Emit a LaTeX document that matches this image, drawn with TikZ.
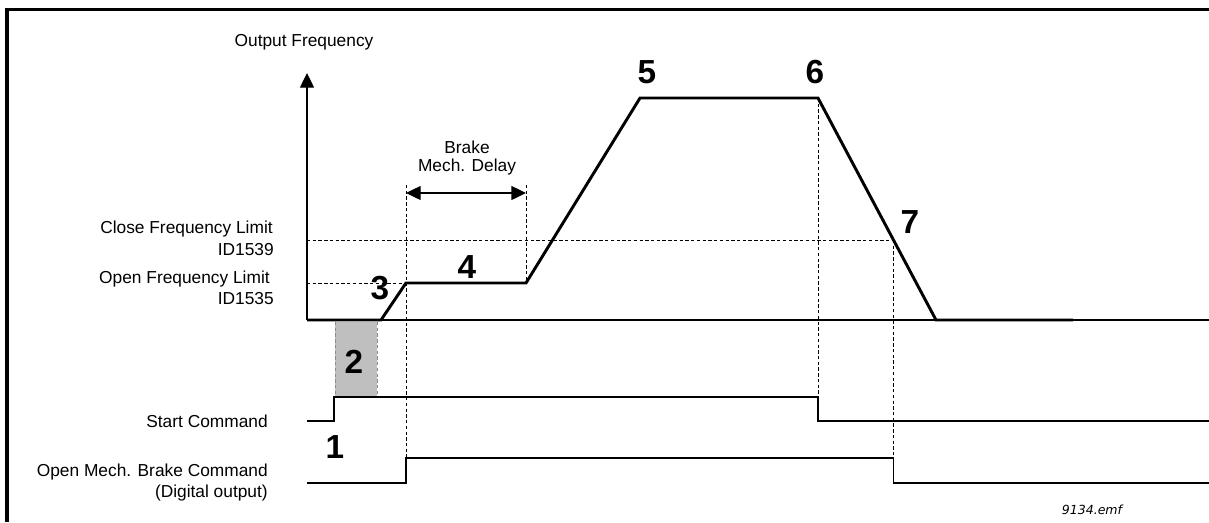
\documentclass[tikz,border=0pt]{standalone}
\usepackage{fontspec}
\setmainfont{Liberation Sans}
\newfontfamily\emffont{DejaVu Sans}
\usetikzlibrary{arrows.meta}

\begin{document}
\begin{tikzpicture}[
  x=0.75pt, y=-0.75pt,
  lbl/.style={font=\fontsize{13}{15}\selectfont, anchor=east, inner sep=0pt},
  num/.style={font=\fontsize{25}{25}\selectfont\bfseries, inner sep=0pt},
  freq/.style={line width=2.2pt, line join=miter},
  sig/.style={line width=1pt},
  guide/.style={line width=0.7pt, dash pattern=on 2.5pt off 1.8pt},
  tip/.style={-{Triangle[length=11pt,width=10.5pt]}}
]
\useasboundingbox (0,0) rectangle (1209,522);
% Frame (open on the right and at the bottom)
\draw[line width=2.3pt] (7,522) -- (7,9.5) -- (1209,9.5);

% Axes
\coordinate (o) at (307,320);
\coordinate (ytop) at (307,73);
\coordinate (xend) at (1209,320);
\draw[sig, tip] (o) -- (ytop);
\draw[sig] (o) -- (xend);
\node (ylabel) at (304,42) {\fontsize{13}{15}\selectfont Output Frequency};

% Frequency curve
\coordinate (f1) at (381,320);
\coordinate (f2) at (406,283);
\coordinate (f3) at (526,283);
\coordinate (f4) at (640,98);
\coordinate (f5) at (818,98);
\coordinate (f6) at (936,320);
\coordinate (f7) at (1073,320);
\coordinate (c7) at (893.5,240);

% Limits
\coordinate (closeL) at (307,240);
\coordinate (openL) at (307,283);
\draw[guide] (closeL) -- (c7);
\draw[guide] (openL) -- (f2);
\node[lbl] (closelbl) at (273,229) {Close Frequency Limit};
\node[lbl] (closeid) at (274,250) {ID1539};
\node[lbl] (openlbl) at (270,279) {Open Frequency Limit};
\node[lbl] (openid) at (274,299) {ID1535};

% Start command
\coordinate (s0) at (307,421);
\coordinate (s1) at (334,421);
\coordinate (s2) at (334,397);
\coordinate (s3) at (818,397);
\coordinate (s4) at (818,421);
\coordinate (s5) at (1209,421);
\node[lbl] (startlbl) at (268,421) {Start Command};

% Open mech. brake command
\coordinate (b0) at (307,483);
\coordinate (b1) at (406,483);
\coordinate (b2) at (406,458);
\coordinate (b3) at (893.5,458);
\coordinate (b4) at (893.5,483);
\coordinate (b5) at (1209,483);
\node[lbl] (brakelbl) at (268,472) {Open Mech. Brake Command};
\node[lbl] (brakelbl2) at (268,493) {(Digital output)};

% Start delay box
\fill[black!25] (335,322) rectangle (377,397);
\draw[guide, black!45] (335,322) -- (335,397) (377,322) -- (377,397);

% Guide lines
\coordinate (g1) at (406,185);
\coordinate (g2) at (526,185);
\draw[guide] (g1) -- (b2);
\draw[guide] (g2) -- (f3);
\draw[guide] (f5) -- (s3);
\draw[guide] (c7) -- (b3);

% Brake mech. delay
\coordinate (d1) at (406,193);
\coordinate (d2) at (526,193);
\draw[sig, {Triangle[length=11pt,width=10.5pt]}-{Triangle[length=11pt,width=10.5pt]}] (d1) -- (d2);
\node[font=\fontsize{13}{15}\selectfont, inner sep=0pt] (delay1) at (467,147) {Brake};
\node[font=\fontsize{13}{15}\selectfont, inner sep=0pt] (delay2) at (467,167) {Mech. Delay};

% Signals
\draw[freq] (o) -- (f1) -- (f2) -- (f3) -- (f4) -- (f5) -- (f6) -- (f7);
\draw[sig] (s0) -- (s1) -- (s2) -- (s3) -- (s4) -- (s5);
\draw[sig] (b0) -- (b1) -- (b2) -- (b3) -- (b4) -- (b5);

% Step numbers
\node[num] (n1) at (335,447) {1};
\node[num] (n2) at (354,362) {2};
\node[num] (n3) at (380,288) {3};
\node[num] (n4) at (467,267) {4};
\node[num] (n5) at (647,72) {5};
\node[num] (n6) at (815,72) {6};
\node[num] (n7) at (910,222) {7};

\node[font=\emffont\itshape\fontsize{9.4}{11}\selectfont, inner sep=0pt] (fig) at (1092,510) {9134.emf};
\end{tikzpicture}
\end{document}
